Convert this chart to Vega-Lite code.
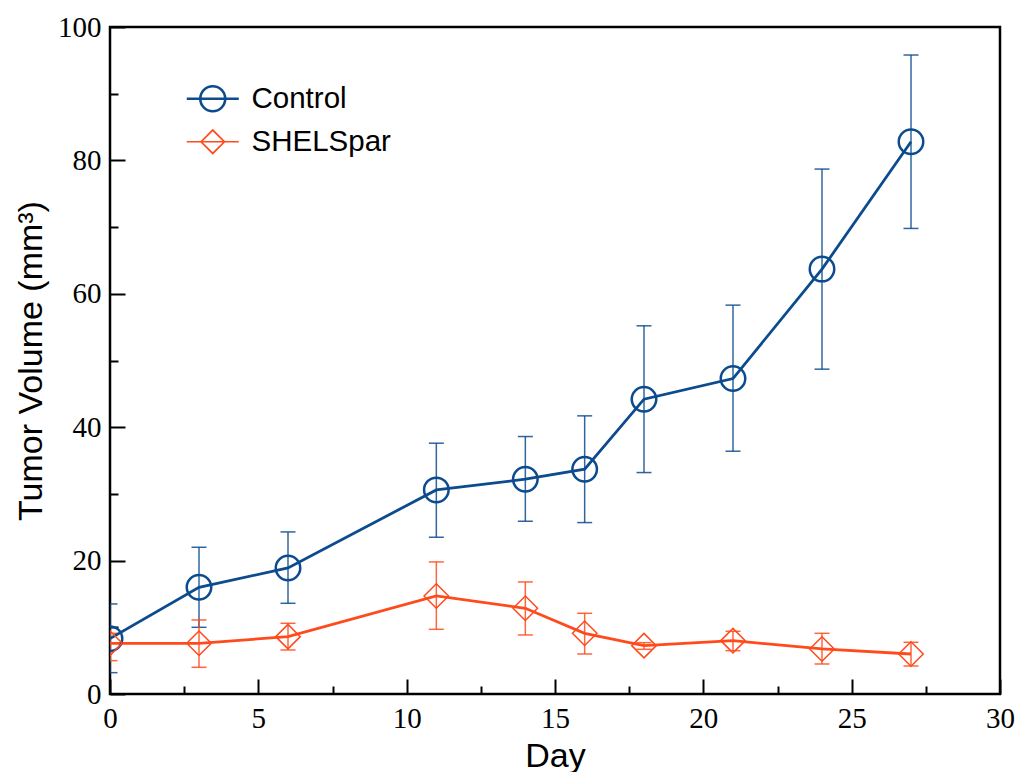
{
  "$schema": "https://vega.github.io/schema/vega-lite/v6.json",
  "width": 890,
  "height": 667,
  "autosize": "none",
  "padding": {"left": 110, "top": 27, "right": 20, "bottom": 78},
  "background": "white",
  "config": {
    "view": {"stroke": "black", "strokeWidth": 2.5},
    "axis": {
      "grid": false,
      "domain": false,
      "tickColor": "black",
      "tickWidth": 2,
      "labelFont": "Liberation Serif",
      "labelFontSize": 29,
      "labelColor": "black",
      "labelFlush": false,
      "titleFont": "Liberation Sans",
      "titleFontSize": 34,
      "titleFontWeight": "normal",
      "titleColor": "black"
    }
  },
  "data": {
    "values": [
      {"day": 0, "group": "Control", "mean": 8.3, "lo": 3.2, "hi": 13.5},
      {"day": 3, "group": "Control", "mean": 16.0, "lo": 10.0, "hi": 22.0},
      {"day": 6, "group": "Control", "mean": 18.9, "lo": 13.6, "hi": 24.3},
      {"day": 11, "group": "Control", "mean": 30.6, "lo": 23.5, "hi": 37.6},
      {"day": 14, "group": "Control", "mean": 32.2, "lo": 25.9, "hi": 38.6},
      {"day": 16, "group": "Control", "mean": 33.7, "lo": 25.7, "hi": 41.7},
      {"day": 18, "group": "Control", "mean": 44.2, "lo": 33.2, "hi": 55.2},
      {"day": 21, "group": "Control", "mean": 47.3, "lo": 36.4, "hi": 58.3},
      {"day": 24, "group": "Control", "mean": 63.7, "lo": 48.7, "hi": 78.7},
      {"day": 27, "group": "Control", "mean": 82.8, "lo": 69.8, "hi": 95.8},
      {"day": 0, "group": "SHELSpar", "mean": 7.6, "lo": 5.0, "hi": 9.1},
      {"day": 3, "group": "SHELSpar", "mean": 7.6, "lo": 4.0, "hi": 11.1},
      {"day": 6, "group": "SHELSpar", "mean": 8.6, "lo": 6.6, "hi": 10.6},
      {"day": 11, "group": "SHELSpar", "mean": 14.7, "lo": 9.7, "hi": 19.8},
      {"day": 14, "group": "SHELSpar", "mean": 12.85, "lo": 8.85, "hi": 16.8},
      {"day": 16, "group": "SHELSpar", "mean": 9.1, "lo": 6.0, "hi": 12.1},
      {"day": 18, "group": "SHELSpar", "mean": 7.25, "lo": 6.7, "hi": 7.7},
      {"day": 21, "group": "SHELSpar", "mean": 8.0, "lo": 6.5, "hi": 9.4},
      {"day": 24, "group": "SHELSpar", "mean": 6.75, "lo": 4.5, "hi": 9.1},
      {"day": 27, "group": "SHELSpar", "mean": 6.0, "lo": 4.2, "hi": 7.75}
    ]
  },
  "layer": [
    {
      "transform": [{"filter": "datum.group === 'Control'"}],
      "mark": {"type": "errorbar", "clip": true, "color": "#0c4b8e", "thickness": 1.5, "opacity": 0.85, "ticks": {"size": 15, "thickness": 1.5, "color": "#0c4b8e"}},
      "encoding": {
        "x": {
          "field": "day", "type": "quantitative",
          "scale": {"domain": [0, 30], "nice": false},
          "axis": {"orient": "bottom", "title": "Day", "values": [0, 5, 10, 15, 20, 25, 30], "tickSize": -15, "labelFontSize": 29, "labelPadding": 25, "titlePadding": 6}
        },
        "y": {
          "field": "lo", "type": "quantitative",
          "scale": {"domain": [0, 100], "nice": false},
          "axis": {"orient": "left", "title": "Tumor Volume (mm³)", "values": [0, 20, 40, 60, 80, 100], "tickSize": -15, "labelFontSize": 29, "labelPadding": 24, "titlePadding": 9}
        },
        "y2": {"field": "hi"}
      }
    },
    {
      "transform": [{"filter": "datum.group === 'SHELSpar'"}],
      "mark": {"type": "errorbar", "clip": true, "color": "#ff4a1c", "thickness": 1.5, "opacity": 0.85, "ticks": {"size": 15, "thickness": 1.5, "color": "#ff4a1c"}},
      "encoding": {
        "x": {"field": "day", "type": "quantitative", "axis": null},
        "y": {"field": "lo", "type": "quantitative", "axis": null},
        "y2": {"field": "hi"}
      }
    },
    {
      "mark": {"type": "line", "clip": true, "strokeWidth": 2.8},
      "encoding": {
        "x": {
          "field": "day", "type": "quantitative",
          "axis": {"orient": "bottom", "title": null, "values": [2.5, 7.5, 12.5, 17.5, 22.5, 27.5], "tickSize": -8, "labels": false}
        },
        "y": {
          "field": "mean", "type": "quantitative",
          "axis": {"orient": "left", "title": null, "values": [10, 30, 50, 70, 90], "tickSize": -8, "labels": false}
        },
        "color": {
          "field": "group", "type": "nominal",
          "scale": {"domain": ["Control", "SHELSpar"], "range": ["#0c4b8e", "#ff4a1c"]},
          "legend": {
            "title": null,
            "orient": "none",
            "legendX": 88,
            "legendY": 57,
            "labelFont": "Liberation Sans",
            "labelFontSize": 29.5,
            "labelColor": "black",
            "labelOffset": 24,
            "rowPadding": 9,
            "symbolSize": 2704,
            "encoding": {
              "symbols": {
                "shape": {"value": {"expr": "datum.value === 'Control' ? 'M-1,0H1M-0.48,0A0.48,0.48 0 1,1 0.48,0A0.48,0.48 0 1,1 -0.48,0' : 'M-1,0H1M-0.45,0L0,-0.45L0.45,0L0,0.45Z'"}},
                "size": {"value": 2704},
                "fill": {"value": "transparent"},
                "strokeWidth": {"value": {"expr": "datum.value === 'Control' ? 2.6 : 1.7"}},
                "opacity": {"value": 1}
              }
            }
          }
        }
      }
    },
    {
      "transform": [{"filter": "datum.group === 'Control'"}],
      "mark": {"type": "point", "clip": true, "shape": "circle", "filled": false, "size": 600, "opacity": 1, "strokeWidth": 2.5, "color": "#0c4b8e"},
      "encoding": {
        "x": {"field": "day", "type": "quantitative", "axis": null},
        "y": {"field": "mean", "type": "quantitative", "axis": null}
      }
    },
    {
      "transform": [{"filter": "datum.group === 'SHELSpar'"}],
      "mark": {"type": "point", "clip": true, "shape": "diamond", "filled": false, "size": 600, "opacity": 1, "strokeWidth": 1.5, "color": "#ff4a1c"},
      "encoding": {
        "x": {"field": "day", "type": "quantitative", "axis": null},
        "y": {"field": "mean", "type": "quantitative", "axis": null}
      }
    }
  ],
  "resolve": {"axis": {"x": "independent", "y": "independent"}}
}
